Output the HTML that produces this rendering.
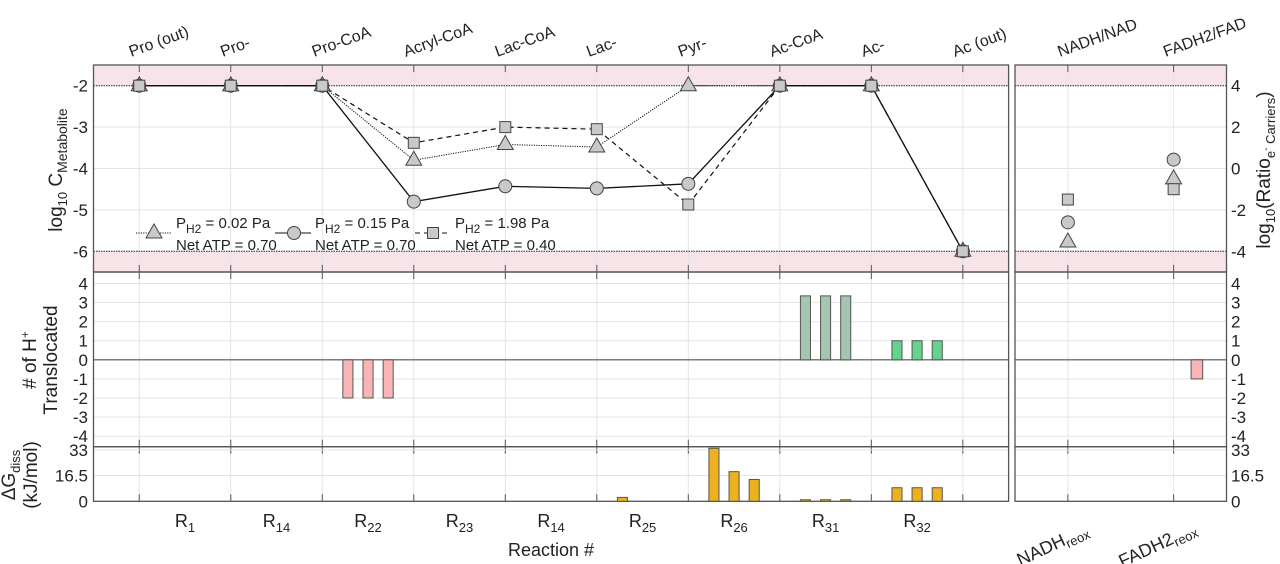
<!DOCTYPE html>
<html><head><meta charset="utf-8"><style>
body{margin:0;background:#fff}
svg{display:block;font-family:"Liberation Sans",sans-serif}
</style></head><body>
<svg id="c" width="1280" height="564" viewBox="0 0 1280 564" xmlns="http://www.w3.org/2000/svg"></svg>
<script>
const metabolites=["Pro (out)","Pro-","Pro-CoA","Acryl-CoA","Lac-CoA","Lac-","Pyr-","Ac-CoA","Ac-","Ac (out)"];
const reactions=[["R","1"],["R","14"],["R","22"],["R","23"],["R","14"],["R","25"],["R","26"],["R","31"],["R","32"]];
const carriers=["NADH/NAD","FADH2/FAD"];
const seriesTri=[-2,-2,-2,-3.8,-3.42,-3.48,-2,-2,-2,-6];
const seriesCirc=[-2,-2,-2,-4.8,-4.43,-4.48,-4.37,-2,-2,-6];
const seriesSq=[-2,-2,-2,-3.38,-3.0,-3.05,-4.87,-2,-2,-6];
const carrierTri=[-3.55,-0.5];
const carrierCirc=[-2.6,0.43];
const carrierSq=[-1.5,-1.0];
const hPlus=[[0,0,0],[0,0,0],[-2,-2,-2],[0,0,0],[0,0,0],[0,0,0],[0,0,0],[3.35,3.35,3.35],[1,1,1]];
const hPlusCarrier=[0,-1];
const dG=[[0,0,0],[0,0,0],[0,0,0],[0,0,0],[0,0,0],[2.5,0,0],[34,19,14],[1,1,1],[8.7,8.7,8.7]];
const leftTicks=[-2,-3,-4,-5,-6];
const rightTicks=[4,2,0,-2,-4];
const hTicks=[4,3,2,1,0,-1,-2,-3,-4];
const gTicks=[0,16.5,33];

const S=document.getElementById('c');const NS="http://www.w3.org/2000/svg";
function el(t,a,p){const e=document.createElementNS(NS,t);for(const k in a)e.setAttribute(k,a[k]);(p||S).appendChild(e);return e;}
const L={x0:93.5,x1:1008.6,a:-0.5,b:9.5},R={x0:1015,x1:1226.5,a:0.5,b:2.5};
const T={y0:65,y1:272,a:-6.5,b:-1.5},M={y0:272,y1:446.7,a:-4.55,b:4.6},B={y0:446.7,y1:501.3,a:0,b:35};
const sx=(p,v)=>p.x0+(v-p.a)/(p.b-p.a)*(p.x1-p.x0);
const sy=(p,v)=>p.y1-(v-p.a)/(p.b-p.a)*(p.y1-p.y0);
const rY=v=>(v-8)/2;

function text(x,y,s,o){o=o||{};const e=el('text',{x:x,y:y,'font-size':o.fs||17,'text-anchor':o.anchor||'middle',fill:'#222'});if(o.rot)e.setAttribute('transform',`rotate(${o.rot} ${x} ${y})`);e.innerHTML=s;return e;}

[[L,T],[R,T],[L,M],[R,M],[L,B],[R,B]].forEach(([px,py],k)=>{
  const g=el('g',{});
  if(py===T){
    el('rect',{x:px.x0,y:py.y0,width:px.x1-px.x0,height:sy(T,-2)-py.y0,fill:'#f6e4e9'},g);
    el('rect',{x:px.x0,y:sy(T,-6),width:px.x1-px.x0,height:py.y1-sy(T,-6),fill:'#f6e4e9'},g);
  }
  const n=px===L?10:2;
  for(let i=0;i<n;i++){const x=sx(px,px===L?i:i+1);el('line',{x1:x,x2:x,y1:py.y0,y2:py.y1,stroke:'#e4e4e4'},g);
    el('line',{x1:x,x2:x,y1:py.y1,y2:py.y1-7,stroke:'#555'},g);el('line',{x1:x,x2:x,y1:py.y0,y2:py.y0+7,stroke:'#555'},g);}
  const ticks=py===T?leftTicks:py===M?hTicks:gTicks;
  ticks.forEach(v=>{const y=sy(py,v);if(!(py===T&&(v==-2||v==-6)))el('line',{x1:px.x0,x2:px.x1,y1:y,y2:y,stroke:'#e4e4e4'},g);});
  if(py===T){[-2,-6].forEach(v=>el('line',{x1:px.x0,x2:px.x1,y1:sy(T,v),y2:sy(T,v),stroke:'#222','stroke-dasharray':'1.5 1'},g));}
  if(py===M)el('line',{x1:px.x0,x2:px.x1,y1:sy(M,0),y2:sy(M,0),stroke:'#555','stroke-width':1.2},g);
  el('rect',{x:px.x0,y:py.y0,width:px.x1-px.x0,height:py.y1-py.y0,fill:'none',stroke:'#555','stroke-width':1.3},g);
});
leftTicks.forEach(v=>text(88,sy(T,v)+6,String(v),{anchor:'end',name:'y-tick-left'}));
rightTicks.forEach(v=>text(1231,sy(T,rY(v))+6,String(v),{anchor:'start',name:'y-tick-right'}));
hTicks.forEach(v=>{text(88,sy(M,v)+6,String(v),{anchor:'end',name:'h-tick-left'});text(1231,sy(M,v)+6,String(v),{anchor:'start',name:'h-tick-right'});});
gTicks.forEach(v=>{text(88,sy(B,v)+6,String(v),{anchor:'end',name:'g-tick-left'});text(1231,sy(B,v)+6,String(v),{anchor:'start',name:'g-tick-right'});});
metabolites.forEach((m,i)=>text(sx(L,i)-8,57,m,{anchor:'start',rot:-20,fs:16,name:'metabolite-label'}));
carriers.forEach((m,i)=>text(sx(R,i+1)-8,57,m,{anchor:'start',rot:-20,fs:16,name:'carrier-label'}));
reactions.forEach((r,i)=>text(sx(L,i+0.5),527,`${r[0]}<tspan font-size="13" dy="5">${r[1]}</tspan>`,{fs:18,name:'reaction-label'}));
text(551,556,'Reaction #',{fs:18,name:'x-axis-title'});
text(1055,550,'NADH<tspan font-size="13" dy="4">reox</tspan>',{rot:-25,fs:18,name:'nadh-reox-label'});
text(1160,550,'FADH2<tspan font-size="13" dy="4">reox</tspan>',{rot:-25,fs:18,name:'fadh2-reox-label'});
text(62,170,'log<tspan font-size="13" dy="5">10</tspan><tspan dy="-5"> C</tspan><tspan font-size="14" dy="5">Metabolite</tspan>',{fs:19,rot:-90,name:'y-axis-title-left'});
text(1270,170,'log<tspan font-size="13" dy="5">10</tspan><tspan dy="-5">(Ratio</tspan><tspan font-size="13" dy="5">e</tspan><tspan font-size="10" dy="-6">-</tspan><tspan font-size="13" dy="6"> Carriers</tspan><tspan dy="-5">)</tspan>',{fs:19,rot:-90,name:'y-axis-title-right'});
text(36,360,'# of H<tspan font-size="12" dy="-7">+</tspan>',{fs:19,rot:-90,name:'h-axis-title'});
text(57,360,'Translocated',{fs:19,rot:-90,name:'h-axis-title-2'});
text(15,475,'ΔG<tspan font-size="13" dy="5">diss</tspan>',{fs:19,rot:-90,name:'g-axis-title'});
text(37,475,'(kJ/mol)',{fs:19,rot:-90,name:'g-axis-title-2'});

const off=[-0.22,0,0.22],bw=0.11;
function bar(px,py,xc,v,fill,name){if(!v)return;const x0=sx(px,xc-bw/2),x1=sx(px,xc+bw/2),y0=sy(py,0),y1=sy(py,v);
  const r=el('rect',{x:x0,y:Math.min(y0,y1),width:x1-x0,height:Math.abs(y1-y0),fill:fill,stroke:'#555','stroke-width':1});
  }
hPlus.forEach((g,i)=>g.forEach((v,j)=>bar(L,M,i+0.5+off[j],v,v<0?'#f9b5b5':(i==8?'#62d48c':'#a4c5b0'),'h-bar')));
hPlusCarrier.forEach((v,i)=>bar(R,M,i+1+0.22,v,'#f9b5b5','h-bar-carrier'));
dG.forEach((g,i)=>g.forEach((v,j)=>bar(L,B,i+0.5+off[j],v,'#edb120','dg-bar')));

function line(data,dash,w,name){const pts=data.map((v,i)=>sx(L,i)+','+sy(T,v)).join(' ');
  const p=el('polyline',{points:pts,fill:'none',stroke:'#111','stroke-width':w,'stroke-dasharray':dash});}
line(seriesTri,'1.2 1.2',1,'line-ph2-002');line(seriesSq,'5 4',1.2,'line-ph2-198');line(seriesCirc,'none',1.3,'line-ph2-015');
function marker(type,x,y,name){let e;const st={fill:'#c9c9c9',stroke:'#444','stroke-width':1};
  if(type=='t')e=el('polygon',Object.assign({points:`${x},${y-9} ${x-8},${y+5} ${x+8},${y+5}`},st));
  else if(type=='c')e=el('circle',Object.assign({cx:x,cy:y,r:6.5},st));
  else e=el('rect',Object.assign({x:x-5.5,y:y-5.5,width:11,height:11},st));
  }
seriesTri.forEach((v,i)=>marker('t',sx(L,i),sy(T,v),'point-ph2-002'));
seriesCirc.forEach((v,i)=>marker('c',sx(L,i),sy(T,v),'point-ph2-015'));
seriesSq.forEach((v,i)=>marker('s',sx(L,i),sy(T,v),'point-ph2-198'));
carrierTri.forEach((v,i)=>marker('t',sx(R,i+1),sy(T,rY(v)),'carrier-point-002'));
carrierCirc.forEach((v,i)=>marker('c',sx(R,i+1),sy(T,rY(v)),'carrier-point-015'));
carrierSq.forEach((v,i)=>marker('s',sx(R,i+1),sy(T,rY(v)),'carrier-point-198'));

const lg=el('g',{});
[[136,154,'t','1.2 1.2','0.02','0.70',176],[275,294,'c','none','0.15','0.70',315],[415,433,'s','5 4','1.98','0.40',455]].forEach(([x,mx,t,d,p,a,tx])=>{
  el('line',{x1:x,x2:x+36,y1:233,y2:233,stroke:'#111','stroke-dasharray':d},lg);
  marker(t,mx,233,'legend-marker');
  text(tx,228,`P<tspan font-size="12" dy="5">H2</tspan><tspan dy="-5"> = ${p} Pa</tspan>`,{anchor:'start',fs:15,name:'legend-entry'});
  text(tx,250,`Net ATP = ${a}`,{anchor:'start',fs:15,name:'legend-atp'});
});
</script>
</body></html>
